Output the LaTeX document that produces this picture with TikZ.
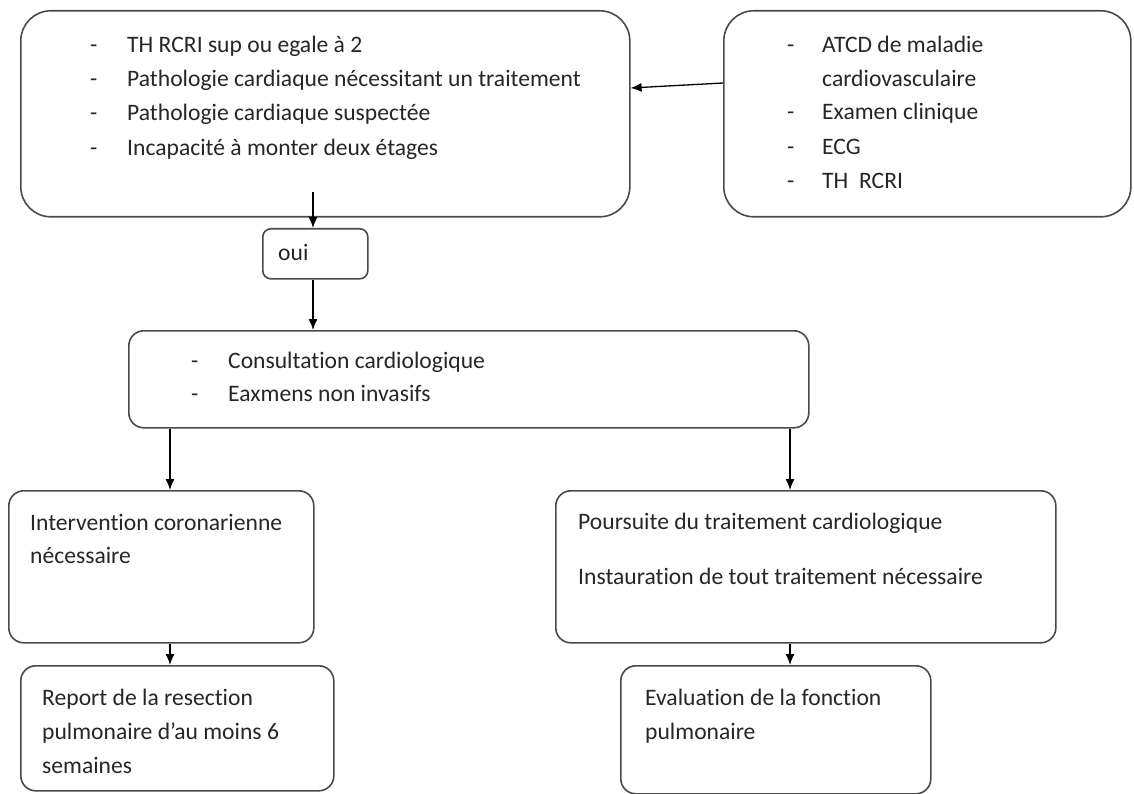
\documentclass[tikz,border=0pt]{standalone}
\usepackage{fontspec}
\setmainfont[Ligatures=CommonOff]{Carlito}
\usetikzlibrary{arrows.meta}
\definecolor{boxline}{HTML}{4A4A4A}
\definecolor{txt}{HTML}{262626}
\tikzset{
  box/.style={draw=boxline, line width=1.6pt, rounded corners=15pt, anchor=north west, inner sep=0pt},
  bigbox/.style={box, rounded corners=30pt},
  smallbox/.style={box, rounded corners=8pt},
  lbl/.style={anchor=base west, inner sep=0pt, text=txt, font=\fontsize{23.6}{28}\selectfont},
  arr/.style={draw=black, line width=1.3pt, -{Latex[length=11pt,width=9pt]}}
}
\begin{document}
\begin{tikzpicture}[x=1pt,y=-1pt]
\useasboundingbox (0,0) rectangle (1134,794);
% boxes
\node[bigbox, minimum width=609pt, minimum height=206pt] (b1) at (20,10) {};
\node[bigbox, minimum width=407pt, minimum height=206pt] (b2) at (723,10) {};
\node[smallbox, minimum width=105pt, minimum height=50pt] (oui) at (262,228) {};
\node[box, minimum width=680pt, minimum height=97pt] (cons) at (128,330) {};
\node[box, minimum width=305pt, minimum height=152pt] (lm) at (8,490) {};
\node[box, minimum width=500pt, minimum height=152pt] (rm) at (555,490) {};
\node[box, minimum width=313pt, minimum height=125pt] (lb) at (20,665) {};
\node[box, minimum width=310pt, minimum height=128pt] (rb) at (620,665) {};
% texts box 1
\node[lbl] (d11) at (90,53) {-};
\node[lbl] (t11) at (127,53) {TH RCRI sup ou egale à 2};
\node[lbl] (d12) at (90,87) {-};
\node[lbl] (t12) at (127,87) {Pathologie cardiaque nécessitant un traitement};
\node[lbl] (d13) at (90,121) {-};
\node[lbl] (t13) at (127,121) {Pathologie cardiaque suspectée};
\node[lbl] (d14) at (90,156) {-};
\node[lbl] (t14) at (127,156) {Incapacité à monter deux étages};
% texts box 2
\node[lbl] (d21) at (787,53) {-};
\node[lbl] (t21) at (822,53) {ATCD de maladie};
\node[lbl] (t22) at (822,87) {cardiovasculaire};
\node[lbl] (d23) at (787,120) {-};
\node[lbl] (t23) at (822,120) {Examen clinique};
\node[lbl] (d24) at (787,155) {-};
\node[lbl] (t24) at (822,155) {ECG};
\node[lbl] (d25) at (787,189) {-};
\node[lbl] (t25) at (822,189) {TH\ \ RCRI};
% oui
\node[lbl] (toui) at (278,261) {oui};
% consultation
\node[lbl] (d31) at (191,368) {-};
\node[lbl] (t31) at (228,368) {Consultation cardiologique};
\node[lbl] (d32) at (191,401) {-};
\node[lbl] (t32) at (228,401) {Eaxmens non invasifs};
% left middle
\node[lbl] (t41) at (30,530) {Intervention coronarienne};
\node[lbl] (t42) at (30,563) {nécessaire};
% right middle
\node[lbl] (t51) at (578,529) {Poursuite du traitement cardiologique};
\node[lbl] (t52) at (578,584) {Instauration de tout traitement nécessaire};
% bottom left
\node[lbl] (t61) at (42,705) {Report de la resection};
\node[lbl] (t62) at (42,739) {pulmonaire d’au moins 6};
\node[lbl] (t63) at (42,773) {semaines};
% bottom right
\node[lbl] (t71) at (645,705) {Evaluation de la fonction};
\node[lbl] (t72) at (645,739) {pulmonaire};
% connectors
\coordinate (s1) at (313,192);
\coordinate (cL) at (170,0);
\coordinate (cR) at (790,0);
\draw[arr] (s1) -- (oui.north -| s1);
\draw[arr] (oui.south -| s1) -- (cons.north -| s1);
\draw[arr] (b2.west |- 0,83) -- (b1.east |- 0,88);
\draw[arr] (cons.south -| cL) -- (lm.north -| cL);
\draw[arr] (cons.south -| cR) -- (rm.north -| cR);
\draw[arr] (lm.south -| cL) -- (lb.north -| cL);
\draw[arr] (rm.south -| cR) -- (rb.north -| cR);
\end{tikzpicture}
\end{document}
